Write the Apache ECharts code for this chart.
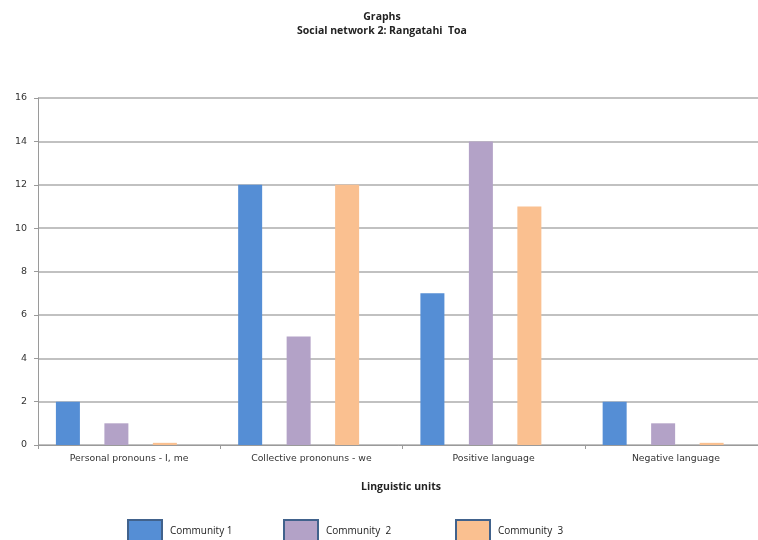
<!DOCTYPE html>
<html>
<head>
<meta charset="utf-8">
<script src="https://cdn.jsdelivr.net/npm/echarts@6/dist/echarts.min.js"></script>
<style>html,body{margin:0;padding:0;background:#fff;}#c{width:758px;height:540px;}</style>
</head>
<body>
<div id="c"></div>
<script>
const categories = ['Personal pronouns - I, me', 'Collective prononuns - we', 'Positive language', 'Negative language'];
const community1 = [2, 12, 7, 2];
const community2 = [1, 5, 14, 1];
const community3 = [0.1, 12, 11, 0.1];
const seriesNames = ['Community 1', 'Community 2', 'Community 3'];
const legendLabels = ['Community 1', 'Community  2', 'Community  3'];
const yTicks = [0, 2, 4, 6, 8, 10, 12, 14, 16];

const colors = ['#558ed5', '#b3a2c7', '#fac090'];
const chart = echarts.init(document.getElementById('c'), null, {renderer: 'canvas'});

const legendLefts = [127, 283, 455];
const legends = seriesNames.map((n, i) => ({
  data: [n],
  left: legendLefts[i],
  top: 519,
  padding: 0,
  itemWidth: 34,
  itemHeight: 22,
  itemGap: 8,
  icon: 'rect',
  selectedMode: false,
  itemStyle: {borderColor: '#41628c', borderWidth: 2},
  formatter: () => legendLabels[i],
  textStyle: {fontFamily: 'Open Sans', fontSize: 10, color: '#222', padding: [0, 0, 0, 3]}
}));

const seriesData = [community1, community2, community3];
const series = seriesNames.map((n, i) => ({
  name: n,
  type: 'bar',
  data: seriesData[i],
  barWidth: 24,
  barGap: '102%',
  itemStyle: {color: colors[i]},
  animation: false
}));
series.push({name: '_spacer', type: 'bar', data: [null, null, null, null], barWidth: 0.01, animation: false});

chart.setOption({
  animation: false,
  title: [
    {text: 'Graphs', left: 377, top: 7, textAlign: 'center',
     textStyle: {fontFamily: 'Open Sans', fontSize: 10.5, fontWeight: 'bold', color: '#222'}},
    {text: 'Social network 2: Rangatahi  Toa', left: 377, top: 21, textAlign: 'center',
     textStyle: {fontFamily: 'Open Sans', fontSize: 10.5, fontWeight: 'bold', color: '#222'}},
    {text: 'Linguistic units', left: 396, top: 477, textAlign: 'center',
     textStyle: {fontFamily: 'Open Sans', fontSize: 10.5, fontWeight: 'bold', color: '#222'}}
  ],
  legend: legends,
  grid: {left: 38, right: -9, top: 98, bottom: 95, containLabel: false, outerBoundsMode: 'none'},
  xAxis: {
    type: 'category',
    data: categories,
    axisLine: {lineStyle: {color: '#9a9a9a', width: 1}},
    axisTick: {show: true, length: 4, lineStyle: {color: '#9a9a9a'}},
    axisLabel: {fontFamily: 'DejaVu Sans', fontSize: 9.3, color: '#333', margin: 9, interval: 0}
  },
  yAxis: {
    type: 'value',
    min: yTicks[0],
    max: yTicks[yTicks.length - 1],
    interval: 2,
    axisLine: {show: true, lineStyle: {color: '#9a9a9a', width: 1}},
    axisTick: {show: true, length: 4, lineStyle: {color: '#9a9a9a'}},
    axisLabel: {fontFamily: 'DejaVu Sans', fontSize: 9.5, color: '#333', margin: 11},
    splitLine: {lineStyle: {color: '#acacac', width: 1.5}}
  },
  series: series
});
</script>
</body>
</html>
